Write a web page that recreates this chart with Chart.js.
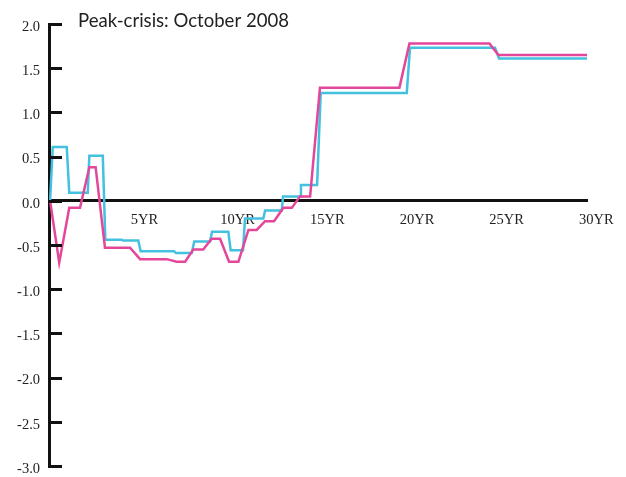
<!DOCTYPE html>
<html>
<head>
<meta charset="utf-8">
<script src="https://cdn.jsdelivr.net/npm/chart.js@4/dist/chart.umd.min.js"></script>
<style>
    body { margin: 0; background: #fff; }
    canvas { display: block; }
</style>
</head>
<body>
<canvas id="curveChart" width="626" height="477"></canvas>
<script>
// Title and axis ticks
const chartTitle = 'Peak-crisis: October 2008';
const yTicks = [2.0, 1.5, 1.0, 0.5, 0.0, -0.5, -1.0, -1.5, -2.0, -2.5, -3.0];
const xTickYears = [5, 10, 15, 20, 25, 30];

// Pink series (maturity in years, value)
const pinkYears = [0.06, 0.57, 1.13, 1.73, 2.25, 2.6, 3.12, 4.52, 5.08, 6.56, 7.12, 7.59,
    8.05, 8.6, 9.07, 9.54, 10.04, 10.56, 11.12, 11.58, 12.05, 12.55, 13.07, 13.54,
    14.0, 14.56, 15.11, 19.54, 20.1, 24.56, 25.06, 30];
const pinkValues = [0, -0.70, -0.08, -0.08, 0.38, 0.38, -0.53, -0.53, -0.66, -0.66, -0.69, -0.69,
    -0.55, -0.55, -0.43, -0.43, -0.69, -0.69, -0.33, -0.33, -0.23, -0.23, -0.08, -0.08,
    0.05, 0.05, 1.28, 1.28, 1.78, 1.78, 1.65, 1.65];

// Cyan series
const cyanYears = [0.06, 0.21, 0.99, 1.13, 2.16, 2.25, 3.0, 3.14, 4.05, 4.13, 4.98, 5.11,
    6.97, 7.08, 7.96, 8.1, 8.98, 9.09, 10.0, 10.13, 10.82, 10.93, 11.95, 12.05,
    12.98, 13.05, 14.0, 14.05, 14.95, 15.15, 19.95, 20.13, 24.87, 25.1, 30];
const cyanValues = [0, 0.61, 0.61, 0.09, 0.09, 0.51, 0.51, -0.44, -0.44, -0.45, -0.45, -0.57,
    -0.57, -0.59, -0.59, -0.46, -0.46, -0.35, -0.35, -0.56, -0.56, -0.20, -0.20, -0.11,
    -0.11, 0.05, 0.05, 0.18, 0.18, 1.22, 1.22, 1.73, 1.73, 1.61, 1.61];

function toPoints(xs, ys) {
    return xs.map((x, i) => ({ x: x, y: ys[i] }));
}

// inward tick marks on the y axis
const innerTicks = {
    id: 'innerTicks',
    afterDraw(chart) {
        const ctx = chart.ctx;
        const yScale = chart.scales.y;
        const left = chart.chartArea.left;
        ctx.save();
        ctx.strokeStyle = '#111';
        ctx.lineWidth = 3;
        yTicks.forEach(function(v) {
            const py = Math.round(yScale.getPixelForValue(v)) + 0.5;
            ctx.beginPath();
            ctx.moveTo(left - 1, py);
            ctx.lineTo(left + 13, py);
            ctx.stroke();
        });
        ctx.restore();
    }
};

const titleText = {
    id: 'titleText',
    afterDraw(chart) {
        const ctx = chart.ctx;
        ctx.save();
        ctx.font = '20px Lato';
        const w = ctx.measureText(chartTitle).width;
        const size = 20 * 211 / w;
        ctx.font = size.toFixed(2) + 'px Lato';
        ctx.fillStyle = '#222';
        ctx.textBaseline = 'alphabetic';
        ctx.fillText(chartTitle, 78, 27);
        ctx.restore();
    }
};

new Chart(document.getElementById('curveChart'), {
    type: 'line',
    data: {
        datasets: [
            {
                label: 'pink',
                data: toPoints(pinkYears, pinkValues),
                borderColor: '#e4469a',
                borderWidth: 2.5,
                pointRadius: 0,
                tension: 0,
                fill: false
            },
            {
                label: 'cyan',
                data: toPoints(cyanYears, cyanValues),
                borderColor: '#43c1de',
                borderWidth: 2.5,
                pointRadius: 0,
                tension: 0,
                fill: false
            }
        ]
    },
    options: {
        responsive: false,
        animation: false,
        layout: {
            padding: { left: 0, right: 39, top: 24, bottom: 11 }
        },
        scales: {
            x: {
                type: 'linear',
                position: { y: 0 },
                min: 0,
                max: 30,
                afterBuildTicks: function(scale) {
                    scale.ticks = xTickYears.map(v => ({ value: v }));
                },
                afterFit: function(scale) {
                    scale.height = 0;
                    scale.paddingLeft = 0;
                    scale.paddingRight = 0;
                },
                grid: { display: false, drawTicks: false },
                border: { display: true, width: 3, color: '#111' },
                ticks: {
                    align: 'start',
                    labelOffset: -8,
                    padding: 11,
                    maxRotation: 0,
                    autoSkip: false,
                    color: '#222',
                    font: { family: 'Liberation Serif', size: 14.5 },
                    callback: function(v) { return v + 'YR'; }
                }
            },
            y: {
                type: 'linear',
                min: -3,
                max: 2,
                afterBuildTicks: function(scale) {
                    scale.ticks = yTicks.map(v => ({ value: v }));
                },
                afterFit: function(scale) {
                    scale.width = 49;
                    scale.paddingTop = 0;
                    scale.paddingBottom = 0;
                },
                grid: { display: false, drawTicks: false },
                border: { display: true, width: 3, color: '#111' },
                ticks: {
                    padding: 9,
                    labelOffset: 3,
                    color: '#222',
                    font: { family: 'Liberation Serif', size: 14.5 },
                    callback: function(v) { return v.toFixed(1); }
                }
            }
        },
        plugins: {
            legend: { display: false },
            tooltip: { enabled: false }
        }
    },
    plugins: [innerTicks, titleText]
});
</script>
</body>
</html>
